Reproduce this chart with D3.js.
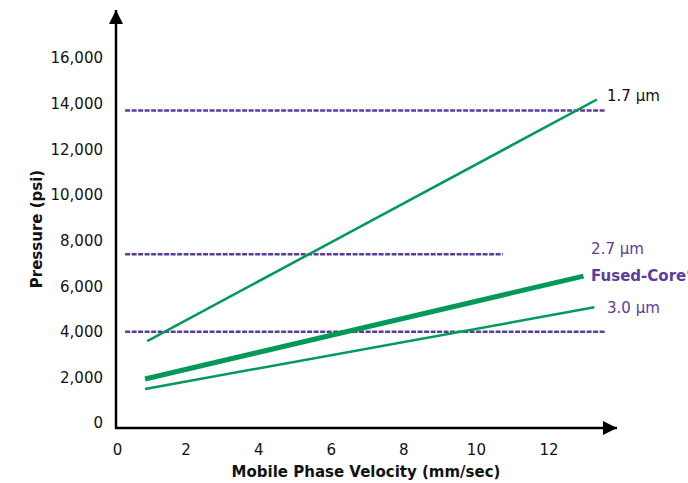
<!DOCTYPE html>
<html>
<head>
<meta charset="utf-8">
<script src="https://cdn.jsdelivr.net/npm/d3@7"></script>
<style>
	body { margin: 0; background: #fff; overflow: hidden; }
	text { font-family: "DejaVu Sans", Verdana, sans-serif; }
</style>
</head>
<body>
<div id="chart"></div>
<script>
// data
var xTicks = [0, 2, 4, 6, 8, 10, 12];
var yTicks = [0, 2000, 4000, 6000, 8000, 10000, 12000, 14000, 16000];

var series = [
	{ name: '1.7 µm', x: [0.93, 13.32], y: [3590, 14180], width: 2.5 },
	{ name: 'Fused-Core', x: [0.87, 12.95], y: [1930, 6440], width: 5 },
	{ name: '3.0 µm', x: [0.87, 13.25], y: [1490, 5070], width: 2.5 }
];

// pressure limits (dashed)
var limits = [
	{ y: 13700, x0: 0.32, x1: 13.57 },
	{ y: 7400, x0: 0.32, x1: 10.73 },
	{ y: 4000, x0: 0.32, x1: 13.57 }
];

var labels = [
	{ text: '1.7 µm', x: 13.6, y: 14350, color: '#111', bold: false },
	{ text: '2.7 µm', x: 13.16, y: 7650, color: '#5b3c9c', bold: false },
	{ text: 'Fused-Core', x: 13.16, y: 6450, color: '#5b3c9c', bold: true, sup: '©' },
	{ text: '3.0 µm', x: 13.6, y: 5050, color: '#5b3c9c', bold: false }
];

var colors = {
	line: '#00995a',
	limit: '#5b3c9c',
	axis: '#000'
};

var width = 688;
var height = 483;

var svg = d3.select('#chart')
	.append('svg')
	.attr('width', width)
	.attr('height', height);

var x = d3.scaleLinear()
	.domain([0, 12])
	.range([113.5, 549]);

var y = d3.scaleLinear()
	.domain([0, 16000])
	.range([423, 58]);

var axisX = 116;
var axisY = 428;

// arrow heads
var defs = svg.append('defs');
defs.append('marker')
	.attr('id', 'arrow')
	.attr('viewBox', '0 0 10 10')
	.attr('refX', 10)
	.attr('refY', 5)
	.attr('markerWidth', 14)
	.attr('markerHeight', 14)
	.attr('markerUnits', 'userSpaceOnUse')
	.attr('orient', 'auto')
	.append('path')
	.attr('d', 'M0,0L10,5L0,10Z')
	.attr('fill', colors.axis);

// dashed limit lines
svg.append('g')
	.selectAll('line')
	.data(limits)
	.enter()
	.append('line')
	.attr('x1', function(d) { return x(d.x0); })
	.attr('x2', function(d) { return x(d.x1); })
	.attr('y1', function(d) { return y(d.y); })
	.attr('y2', function(d) { return y(d.y); })
	.attr('stroke', colors.limit)
	.attr('stroke-width', 2.5)
	.attr('stroke-dasharray', '5,1.5');

// pressure lines
var line = d3.line()
	.x(function(d) { return x(d[0]); })
	.y(function(d) { return y(d[1]); });

svg.append('g')
	.selectAll('path')
	.data(series)
	.enter()
	.append('path')
	.attr('d', function(d) { return line(d3.zip(d.x, d.y)); })
	.attr('fill', 'none')
	.attr('stroke', colors.line)
	.attr('stroke-width', function(d) { return d.width; });

// axes
svg.append('line')
	.attr('x1', axisX).attr('x2', axisX)
	.attr('y1', axisY + 1).attr('y2', 10)
	.attr('stroke', colors.axis)
	.attr('stroke-width', 2.5)
	.attr('marker-end', 'url(#arrow)');

svg.append('line')
	.attr('x1', axisX - 1).attr('x2', 617)
	.attr('y1', axisY).attr('y2', axisY)
	.attr('stroke', colors.axis)
	.attr('stroke-width', 2.5)
	.attr('marker-end', 'url(#arrow)');

svg.append('g')
	.selectAll('text')
	.data(yTicks)
	.enter()
	.append('text')
	.attr('x', 103)
	.attr('y', function(d) { return y(d); })
	.attr('dy', '0.36em')
	.attr('text-anchor', 'end')
	.attr('font-size', 15)
	.attr('fill', '#111')
	.text(function(d) { return d3.format(',')(d); });

svg.append('g')
	.selectAll('text')
	.data(xTicks)
	.enter()
	.append('text')
	.attr('x', function(d) { return d === 0 ? x(d) + 4 : x(d); })
	.attr('y', 455)
	.attr('text-anchor', 'middle')
	.attr('font-size', 15)
	.attr('fill', '#111')
	.text(function(d) { return d; });

svg.append('text')
	.attr('x', 366)
	.attr('y', 477)
	.attr('text-anchor', 'middle')
	.attr('font-size', 15)
	.attr('font-weight', 'bold')
	.attr('fill', '#111')
	.text('Mobile Phase Velocity (mm/sec)');

svg.append('text')
	.attr('transform', 'translate(42,229) rotate(-90)')
	.attr('text-anchor', 'middle')
	.attr('font-size', 15)
	.attr('font-weight', 'bold')
	.attr('fill', '#111')
	.text('Pressure (psi)');

// line labels
var lbl = svg.append('g')
	.selectAll('text')
	.data(labels)
	.enter()
	.append('text')
	.attr('x', function(d) { return x(d.x); })
	.attr('y', function(d) { return y(d.y); })
	.attr('dy', '0.36em')
	.attr('font-size', 15)
	.attr('font-weight', function(d) { return d.bold ? 'bold' : 'normal'; })
	.attr('fill', function(d) { return d.color; })
	.text(function(d) { return d.text; });

lbl.filter(function(d) { return d.sup; })
	.append('tspan')
	.attr('font-size', 8)
	.attr('dy', '-0.6em')
	.text(function(d) { return d.sup; });
</script>
</body>
</html>
